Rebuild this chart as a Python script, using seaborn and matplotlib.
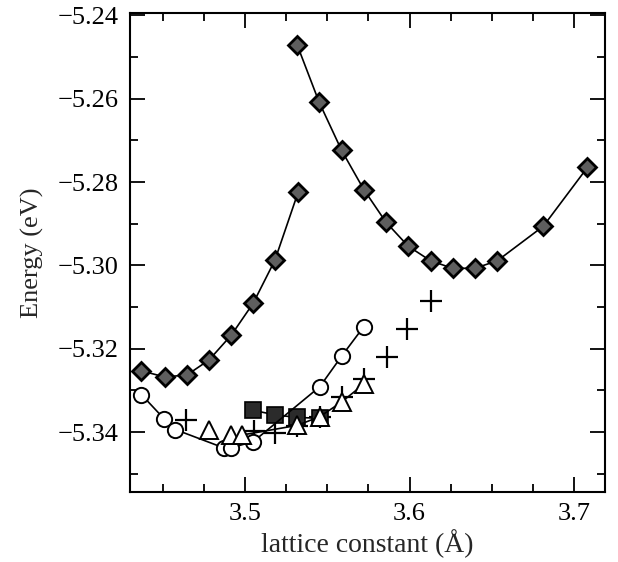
import matplotlib
matplotlib.use("Agg")
import matplotlib.pyplot as plt
import seaborn as sns
import numpy as np
from matplotlib.ticker import MultipleLocator

# ---- data ----
diamond1_x = [3.4369, 3.4511, 3.4647, 3.4781, 3.4917, 3.5049, 3.5181, 3.5323]
diamond1_y = [-5.3253, -5.3268, -5.3263, -5.3227, -5.3167, -5.3091, -5.2988, -5.2824]

diamond2_x = [3.5316, 3.5450, 3.5587, 3.5722, 3.5856, 3.5992, 3.6128, 3.6262,
              3.6398, 3.6534, 3.6814, 3.7082]
diamond2_y = [-5.2470, -5.2608, -5.2724, -5.2818, -5.2896, -5.2954, -5.2989, -5.3007,
              -5.3007, -5.2989, -5.2906, -5.2765]

circle_x = [3.4369, 3.4509, 3.4575, 3.4870, 3.4914, 3.5050, 3.5455, 3.5587, 3.5722]
circle_y = [-5.3310, -5.3369, -5.3394, -5.3438, -5.3438, -5.3423, -5.3291, -5.3218, -5.3147]

triangle_x = [3.4781, 3.4915, 3.4984, 3.5318, 3.5455, 3.5587, 3.5725]
triangle_y = [-5.3396, -5.3407, -5.3407, -5.3384, -5.3363, -5.3328, -5.3284]

square_x = [3.5050, 3.5184, 3.5316, 3.5455]
square_y = [-5.3348, -5.3359, -5.3365, -5.3367]

plus_x = [3.4643, 3.5053, 3.5181, 3.5315, 3.5455, 3.5590, 3.5722, 3.5861, 3.5987, 3.6128]
plus_y = [-5.3372, -5.3398, -5.3402, -5.3386, -5.3364, -5.3316, -5.3273, -5.3221, -5.3153, -5.3085]

x_ticks = [3.5, 3.6, 3.7]
y_ticks = [-5.34, -5.32, -5.30, -5.28, -5.26, -5.24]

# ---- figure ----
sns.set_theme(style="ticks")
plt.rcParams["font.family"] = ["Liberation Serif", "DejaVu Serif"]
plt.rcParams["mathtext.fontset"] = "stix"

fig = plt.figure(figsize=(6.18, 5.62), dpi=100)
ax = fig.add_axes([130 / 618, 1 - 492 / 562, 475 / 618, (492 - 13.3) / 562])

lw = 1.2
common = dict(estimator=None, sort=False, ax=ax, legend=False)

# pluses (no line)
sns.lineplot(x=plus_x, y=plus_y, color="black", linestyle="", marker="+",
             markersize=16, markeredgewidth=1.6, markeredgecolor="black",
             zorder=3, **common)

# squares
sns.lineplot(x=square_x, y=square_y, color="black", linewidth=lw, marker="s",
             markersize=11, markerfacecolor="#2b2b2b", markeredgecolor="black",
             markeredgewidth=1.2, zorder=4, **common)

# circles
sns.lineplot(x=circle_x, y=circle_y, color="black", linewidth=lw, marker="o",
             markersize=11, markerfacecolor="white", markeredgecolor="black",
             markeredgewidth=1.4, zorder=5, **common)

# triangles: line for the connected part, markers for all
sns.lineplot(x=triangle_x[2:], y=triangle_y[2:], color="black", linewidth=lw,
             zorder=5.5, **common)
sns.lineplot(x=triangle_x, y=triangle_y, color="black", linestyle="", marker="^",
             markersize=13, markerfacecolor="white", markeredgecolor="black",
             markeredgewidth=1.4, zorder=6, **common)

# diamonds
for dx, dy in [(diamond1_x, diamond1_y), (diamond2_x, diamond2_y)]:
    sns.lineplot(x=dx, y=dy, color="black", linewidth=lw, marker="D",
                 markersize=9.5, markerfacecolor="#5e5e5e", markeredgecolor="black",
                 markeredgewidth=2.0, zorder=7, **common)

ax.set_xlim(3.43, 3.7189)
ax.set_ylim(-5.3544, -5.2395)
ax.set_xticks(x_ticks)
ax.set_xticklabels([f"{v:.1f}" for v in x_ticks])
ax.set_yticks(y_ticks)
ax.set_yticklabels([f"\u2212{abs(v):.2f}" for v in y_ticks])
ax.xaxis.set_minor_locator(MultipleLocator(0.025))
ax.yaxis.set_minor_locator(MultipleLocator(0.01))

ax.tick_params(which="both", direction="in", top=True, right=True,
               width=1.3, colors="black", labelsize=19)
ax.tick_params(which="major", length=11, pad=8)
ax.tick_params(which="minor", length=6)
for s in ax.spines.values():
    s.set_linewidth(1.5)
    s.set_color("black")

ax.set_xlabel("lattice constant (Å)", fontsize=20, labelpad=3)
ax.set_ylabel("Energy (eV)", fontsize=19, labelpad=10)

fig.savefig("out.png", dpi=100)
